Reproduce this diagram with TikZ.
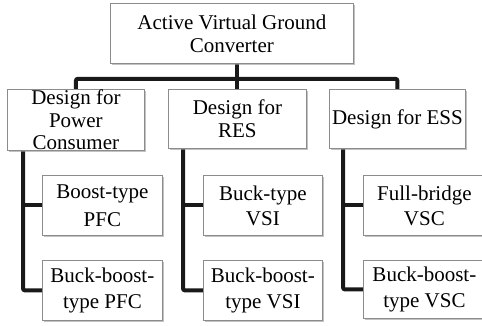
\documentclass[tikz,border=0pt]{standalone}
\usepackage{fontspec}
\setmainfont{Liberation Serif}
\usetikzlibrary{shadows,calc,backgrounds}
\begin{document}
\begin{tikzpicture}[x=1pt,y=-1pt,
  box/.style={draw=black!45, line width=0.8pt, fill=white, anchor=north west,
    inner sep=0pt, align=center, font=\fontsize{21}{23}\selectfont,
    drop shadow={shadow xshift=2pt, shadow yshift=-2pt, fill=black!40, opacity=0.6}},
  conn/.style={line width=4pt, black!90, rounded corners=2pt}]
\useasboundingbox (0,0) rectangle (482,326);

% root
\node[box, minimum width=243pt, minimum height=60pt] (top) at (110,3)
  {Active Virtual Ground\\Converter};

% second level
\node[box, minimum width=137pt, minimum height=61pt,
  font=\fontsize{21}{22.5}\selectfont] (pc) at (7,89) {Design for\\Power\\Consumer};
\node[box, minimum width=138pt, minimum height=59pt,
  font=\fontsize{21}{22.5}\selectfont] (res) at (168,89) {Design for\\RES};
\node[box, minimum width=136pt, minimum height=59pt] (ess) at (329,89) {Design for ESS};

% third level
\node[box, minimum width=120pt, minimum height=60pt,
  font=\fontsize{21}{28}\selectfont] (pfcA) at (42,175) {Boost-type\\PFC};
\node[box, minimum width=120pt, minimum height=60pt,
  font=\fontsize{21}{26}\selectfont] (pfcB) at (42,260) {Buck-boost-\\type PFC};
\node[box, minimum width=119pt, minimum height=60pt,
  font=\fontsize{21}{25}\selectfont] (vsiA) at (203,175) {Buck-type\\VSI};
\node[box, minimum width=119pt, minimum height=60pt,
  font=\fontsize{21}{26}\selectfont] (vsiB) at (203,260) {Buck-boost-\\type VSI};
\node[box, minimum width=122pt, minimum height=60pt,
  font=\fontsize{21}{25}\selectfont] (vscA) at (363,175) {Full-bridge\\VSC};
\node[box, minimum width=122pt, minimum height=58pt,
  font=\fontsize{21}{26}\selectfont] (vscB) at (363,260) {Buck-boost-\\type VSC};

\begin{scope}[on background layer]
% bus from the root to the second level
\coordinate (bus) at ($(top.south)+(6,15)$);
\draw[conn] (pc.north) |- (bus) -| (ess.north);
\draw[conn, rounded corners=0pt] (top.south -| res.north) -- (res.north);

% branches to the third level
\draw[conn] ([xshift=16pt]pc.south west) |- (pfcB.west);
\draw[conn] ([xshift=16pt]pc.south west |- pfcA.west) -- (pfcA.west);
\draw[conn] ([xshift=15pt]res.south west) |- (vsiB.west);
\draw[conn] ([xshift=15pt]res.south west |- vsiA.west) -- (vsiA.west);
\draw[conn] ([xshift=14pt]ess.south west) |- (vscB.west);
\draw[conn] ([xshift=14pt]ess.south west |- vscA.west) -- (vscA.west);
\end{scope}
\end{tikzpicture}
\end{document}
